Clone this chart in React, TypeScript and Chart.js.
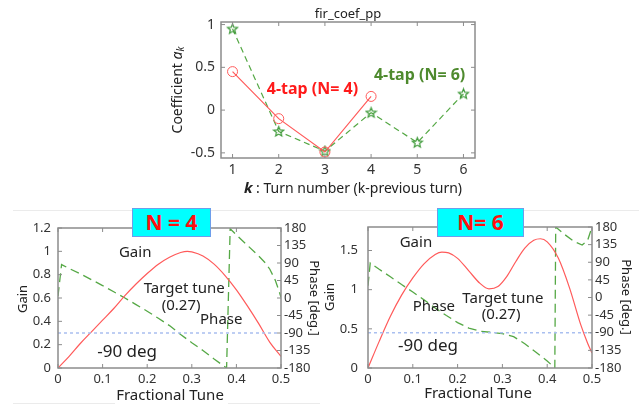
import React, { useEffect, useRef } from "react";
import { Chart, registerables } from "chart.js";
Chart.register(...registerables);

const FONT = '"Noto Sans", "Open Sans", "DejaVu Sans", sans-serif';

// ---- top chart data ----
const turns = [1, 2, 3, 4, 5, 6];
const coefN4 = [0.45, -0.1, -0.49, 0.16];
const coefN6 = [0.95, -0.25, -0.48, -0.03, -0.38, 0.19];

// ---- N = 4 response ----
const tuneGainN4 = [0, 0.025, 0.05, 0.075, 0.1, 0.125, 0.15, 0.175, 0.2, 0.225, 0.25, 0.275, 0.29, 0.3, 0.325, 0.35, 0.375, 0.4, 0.425, 0.45, 0.475, 0.5];
const gainN4 = [0, 0.1, 0.21, 0.31, 0.41, 0.51, 0.62, 0.72, 0.81, 0.89, 0.95, 0.99, 1.0, 0.995, 0.96, 0.89, 0.79, 0.67, 0.53, 0.38, 0.22, 0.1];
const tunePhaseN4 = [0, 0.008, 0.025, 0.05, 0.075, 0.1, 0.125, 0.15, 0.175, 0.2, 0.225, 0.25, 0.275, 0.3, 0.325, 0.35, 0.378, 0.386, 0.4, 0.425, 0.45, 0.465, 0.475, 0.487, 0.495, 0.5];
const phaseN4 = [5, 86, 76, 62, 47, 32, 16, 0, -17, -34, -52, -71, -94, -115, -135, -157, -180, 178, 162, 135, 108, 90, 74, 46, 20, 2];

// ---- N = 6 response ----
const tuneGainN6 = [0, 0.025, 0.05, 0.075, 0.1, 0.125, 0.15, 0.165, 0.18, 0.2, 0.225, 0.25, 0.27, 0.29, 0.31, 0.33, 0.35, 0.37, 0.385, 0.4, 0.425, 0.45, 0.475, 0.49, 0.5];
const gainN6 = [0, 0.34, 0.66, 0.93, 1.15, 1.33, 1.45, 1.48, 1.47, 1.4, 1.24, 1.08, 1.01, 1.04, 1.17, 1.36, 1.53, 1.63, 1.65, 1.61, 1.4, 1.02, 0.55, 0.32, 0.19];
const tunePhaseN6 = [0, 0.005, 0.025, 0.05, 0.075, 0.1, 0.125, 0.15, 0.175, 0.2, 0.225, 0.25, 0.275, 0.3, 0.325, 0.35, 0.375, 0.4, 0.417, 0.419, 0.44, 0.46, 0.478, 0.49, 0.5];
const phaseN6 = [30, 88, 72, 53, 33, 14, -6, -27, -46, -64, -78, -86, -89, -92, -100, -118, -140, -162, -180, 180, 160, 143, 134, 145, 180];

// ---- reference line (-90 deg) ----
const refTune = [0, 0.5];
const refPhase = [-90, -90];

const xy = (xs: number[], ys: number[]) => ys.map((y, i) => ({ x: xs[i], y }));
const fmt = (v: any) => String(Number(Number(v).toFixed(3)));

type Part = { t: string; style?: string; size?: number; dy?: number };
type Note = { text?: string; parts?: Part[]; x: number; y: number; px?: boolean; color?: string; size?: number; bold?: boolean; rot?: number; yAxis?: string };

function notesPlugin(id: string, notes: Note[]) {
  return {
    id,
    afterDraw(chart: any) {
      const ctx = chart.ctx as CanvasRenderingContext2D;
      for (const n of notes) {
        const px = n.px ? n.x : chart.scales.x.getPixelForValue(n.x);
        const py = n.px ? n.y : chart.scales[n.yAxis || "y"].getPixelForValue(n.y);
        ctx.save();
        ctx.translate(px, py);
        if (n.rot) ctx.rotate(n.rot);
        ctx.fillStyle = n.color || "#222";
        ctx.textBaseline = "middle";
        const parts: Part[] = n.parts || [{ t: n.text || "", style: n.bold ? "bold" : "", size: n.size }];
        const fonts = parts.map((p) => `${p.style ? p.style + " " : ""}${p.size || n.size || 14}px ${FONT}`);
        let w = 0;
        const ws = parts.map((p, i) => {
          ctx.font = fonts[i];
          const m = ctx.measureText(p.t).width;
          w += m;
          return m;
        });
        let cx = -w / 2;
        ctx.textAlign = "left";
        parts.forEach((p, i) => {
          ctx.font = fonts[i];
          ctx.fillText(p.t, cx, p.dy || 0);
          cx += ws[i];
        });
        ctx.restore();
      }
    },
  };
}

const framePlugin = {
  id: "frame",
  afterDraw(chart: any) {
    const ctx = chart.ctx as CanvasRenderingContext2D;
    const a = chart.chartArea;
    ctx.save();
    ctx.strokeStyle = "#8c8c8c";
    ctx.lineWidth = 1.5;
    ctx.strokeRect(a.left, a.top, a.right - a.left, a.bottom - a.top);
    ctx.lineWidth = 1;
    const L = 4;
    const seg = (x1: number, y1: number, x2: number, y2: number) => {
      ctx.beginPath();
      ctx.moveTo(x1, y1);
      ctx.lineTo(x2, y2);
      ctx.stroke();
    };
    const sx = chart.scales.x;
    sx.ticks.forEach((t: any) => {
      const p = sx.getPixelForValue(t.value);
      seg(p, a.bottom, p, a.bottom - L);
      seg(p, a.top, p, a.top + L);
    });
    const sy = chart.scales.y;
    const sy1 = chart.scales.y1;
    sy.ticks.forEach((t: any) => {
      const p = sy.getPixelForValue(t.value);
      seg(a.left, p, a.left + L, p);
      if (!sy1) seg(a.right, p, a.right - L, p);
    });
    if (sy1) {
      sy1.ticks.forEach((t: any) => {
        const p = sy1.getPixelForValue(t.value);
        seg(a.right, p, a.right - L, p);
      });
    }
    ctx.restore();
  },
};

function starImage(color: string) {
  const c = document.createElement("canvas");
  c.width = 13;
  c.height = 13;
  const g = c.getContext("2d")!;
  g.strokeStyle = color;
  g.lineWidth = 1.2;
  g.beginPath();
  for (let i = 0; i < 10; i++) {
    const r = i % 2 === 0 ? 5.2 : 2.3;
    const ang = -Math.PI / 2 + (i * Math.PI) / 5;
    const px = 6.5 + r * Math.cos(ang);
    const py = 6.8 + r * Math.sin(ang);
    if (i === 0) g.moveTo(px, py);
    else g.lineTo(px, py);
  }
  g.closePath();
  g.stroke();
  return c;
}

const RED = "#ff5a5a";
const GREEN = "#55a845";

function tickFont(size: number) {
  return { family: FONT, size };
}
const noGrid = { display: false, drawTicks: false };

function makeTopConfig(): any {
  return {
    type: "line",
    data: {
      datasets: [
        {
          data: xy(turns, coefN4),
          borderColor: RED,
          borderWidth: 1.2,
          pointStyle: "circle",
          pointRadius: 5,
          pointBorderColor: RED,
          pointBackgroundColor: "rgba(0,0,0,0)",
          pointBorderWidth: 1,
        },
        {
          data: xy(turns, coefN6),
          borderColor: GREEN,
          borderWidth: 1.2,
          borderDash: [6, 4],
          pointStyle: starImage("#3f9a3a"),
          pointRadius: 6,
        },
      ],
    },
    options: {
      animation: false,
      responsive: false,
      devicePixelRatio: 1,
      layout: { padding: { top: 22, right: 15, left: 0, bottom: 0 } },
      plugins: { legend: { display: false }, tooltip: { enabled: false }, title: { display: false } },
      scales: {
        x: {
          type: "linear",
          min: 0.75,
          max: 6.25,
          grid: noGrid,
          border: { display: false },
          ticks: { stepSize: 1, includeBounds: false, autoSkip: false, font: tickFont(14), color: "#333", padding: 4, maxRotation: 0, callback: fmt },
          afterFit: (s: any) => { s.height = 42; },
        },
        y: {
          min: -0.56,
          max: 1.03,
          grid: noGrid,
          border: { display: false },
          ticks: { stepSize: 0.5, includeBounds: false, autoSkip: false, font: tickFont(14), color: "#333", padding: 6, callback: fmt },
          afterFit: (s: any) => { s.width = 61; },
        },
      },
    },
    plugins: [
      framePlugin,
      notesPlugin("topNotes", [
        { text: "fir_coef_pp", x: 188, y: 14, px: true, size: 13 },
        {
          parts: [
            { t: "Coefficient ", size: 14 },
            { t: "a", style: "italic", size: 14 },
            { t: "k", style: "italic", size: 10, dy: 3 },
          ],
          x: 18, y: 90, px: true, rot: -Math.PI / 2,
        },
        {
          parts: [
            { t: "k", style: "italic bold", size: 15 },
            { t: " : Turn number (k-previous turn)", size: 14 },
          ],
          x: 193, y: 189, px: true,
        },
        { text: "4-tap (N= 4)", x: 2.73, y: 0.24, color: "#ff1a1a", bold: true, size: 16 },
        { text: "4-tap (N= 6)", x: 5.05, y: 0.41, color: "#4e8a2e", bold: true, size: 16 },
      ]),
    ],
  };
}

function makeRespConfig(opts: {
  gainT: number[]; gain: number[]; phT: number[]; ph: number[]; gMax: number; gStep: number;
  leftW: number; rightW: number; top: number; leftPad: number; notes: Note[];
}): any {
  return {
    type: "line",
    data: {
      datasets: [
        {
          data: xy(refTune, refPhase),
          yAxisID: "y1",
          borderColor: "#a9bff0",
          borderWidth: 1.5,
          borderDash: [3, 3],
          pointRadius: 0,
        },
        {
          data: xy(opts.gainT, opts.gain),
          yAxisID: "y",
          borderColor: RED,
          borderWidth: 1.2,
          pointRadius: 0,
          cubicInterpolationMode: "monotone",
        },
        {
          data: xy(opts.phT, opts.ph),
          yAxisID: "y1",
          borderColor: GREEN,
          borderWidth: 1.3,
          borderDash: [9, 5],
          pointRadius: 0,
        },
      ],
    },
    options: {
      animation: false,
      responsive: false,
      devicePixelRatio: 1,
      layout: { padding: { top: opts.top, right: 0, left: 0, bottom: 0 } },
      plugins: { legend: { display: false }, tooltip: { enabled: false } },
      scales: {
        x: {
          type: "linear",
          min: 0,
          max: 0.5,
          grid: noGrid,
          border: { display: false },
          ticks: { stepSize: 0.1, autoSkip: false, font: tickFont(13), color: "#333", padding: 3, maxRotation: 0, callback: fmt },
          afterFit: (s: any) => { s.height = 38; },
        },
        y: {
          position: "left",
          min: 0,
          max: opts.gMax,
          grid: noGrid,
          border: { display: false },
          ticks: { stepSize: opts.gStep, includeBounds: false, autoSkip: false, font: tickFont(13), color: "#333", padding: opts.leftPad, callback: fmt },
          afterFit: (s: any) => { s.width = opts.leftW; },
        },
        y1: {
          position: "right",
          min: -180,
          max: 180,
          grid: noGrid,
          border: { display: false },
          ticks: { stepSize: 45, autoSkip: false, font: tickFont(13), color: "#333", padding: 3, callback: fmt },
          afterFit: (s: any) => { s.width = opts.rightW; },
        },
      },
    },
    plugins: [framePlugin, notesPlugin("respNotes", opts.notes)],
  };
}

function ChartCanvas({ left, top, width, height, make }: { left: number; top: number; width: number; height: number; make: () => any }) {
  const ref = useRef<HTMLCanvasElement | null>(null);
  useEffect(() => {
    if (!ref.current) return;
    const ch = new Chart(ref.current, make());
    return () => ch.destroy();
  }, []);
  return (
    <canvas
      ref={ref}
      width={width}
      height={height}
      style={{ position: "absolute", left, top, width, height }}
    />
  );
}

const boxStyle = (left: number, width: number): React.CSSProperties => ({
  position: "absolute",
  left,
  top: 208,
  width,
  height: 29,
  boxSizing: "border-box",
  background: "#00ffff",
  border: "1.5px solid #6d9eeb",
  color: "#ff1010",
  fontFamily: FONT,
  fontWeight: "bold",
  fontSize: 21,
  lineHeight: "26px",
  textAlign: "center",
  zIndex: 2,
});

const faint = (left: number, top: number, width: number): React.CSSProperties => ({
  position: "absolute",
  left,
  top,
  width,
  height: 1,
  background: "#ebebeb",
});

export default function App() {
  const leftNotes: Note[] = [
    { text: "Gain", x: 0.173, y: 0.99, size: 15 },
    { text: "Target tune", x: 0.283, y: 0.68, size: 15 },
    { text: "(0.27)", x: 0.276, y: 0.53, size: 15 },
    { text: "Phase", x: 0.366, y: 0.41, size: 15 },
    { text: "-90 deg", x: 0.155, y: 0.14, size: 17 },
    { text: "Gain", x: 23, y: 99, px: true, size: 13, rot: -Math.PI / 2 },
    { text: "Phase [deg.]", x: 314, y: 98, px: true, size: 13, rot: Math.PI / 2 },
    { text: "Fractional Tune", x: 170, y: 196, px: true, size: 15 },
  ];
  const rightNotes: Note[] = [
    { text: "Gain", x: 0.107, y: 1.6, size: 15 },
    { text: "Phase", x: 0.147, y: 0.78, size: 15 },
    { text: "Target tune", x: 0.301, y: 0.88, size: 15 },
    { text: "(0.27)", x: 0.297, y: 0.68, size: 15 },
    { text: "-90 deg", x: 0.134, y: 0.28, size: 17 },
    { text: "Gain", x: 10, y: 97, px: true, size: 13, rot: -Math.PI / 2 },
    { text: "Phase [deg.]", x: 306, y: 97, px: true, size: 13, rot: Math.PI / 2 },
    { text: "Fractional Tune", x: 158, y: 194, px: true, size: 15 },
  ];
  return (
    <div style={{ position: "fixed", left: 0, top: 0, width: 639, height: 406, background: "#fff", overflow: "hidden" }}>
      <div style={faint(13, 210, 626)} />
      <div style={faint(13, 403, 102)} />
      <div style={faint(228, 403, 92)} />
      <ChartCanvas left={160} top={0} width={330} height={200} make={makeTopConfig} />
      <ChartCanvas
        left={0}
        top={200}
        width={320}
        height={206}
        make={() =>
          makeRespConfig({
            gainT: tuneGainN4, gain: gainN4, phT: tunePhaseN4, ph: phaseN4,
            gMax: 1.2, gStep: 0.2, leftW: 58, rightW: 39, top: 28, leftPad: 7, notes: leftNotes,
          })
        }
      />
      <ChartCanvas
        left={320}
        top={200}
        width={319}
        height={206}
        make={() =>
          makeRespConfig({
            gainT: tuneGainN6, gain: gainN6, phT: tunePhaseN6, ph: phaseN6,
            gMax: 1.8, gStep: 0.5, leftW: 48, rightW: 47, top: 27, leftPad: 10, notes: rightNotes,
          })
        }
      />
      <div style={boxStyle(132, 79)}>N = 4</div>
      <div style={boxStyle(437, 87)}>N= 6</div>
    </div>
  );
}
